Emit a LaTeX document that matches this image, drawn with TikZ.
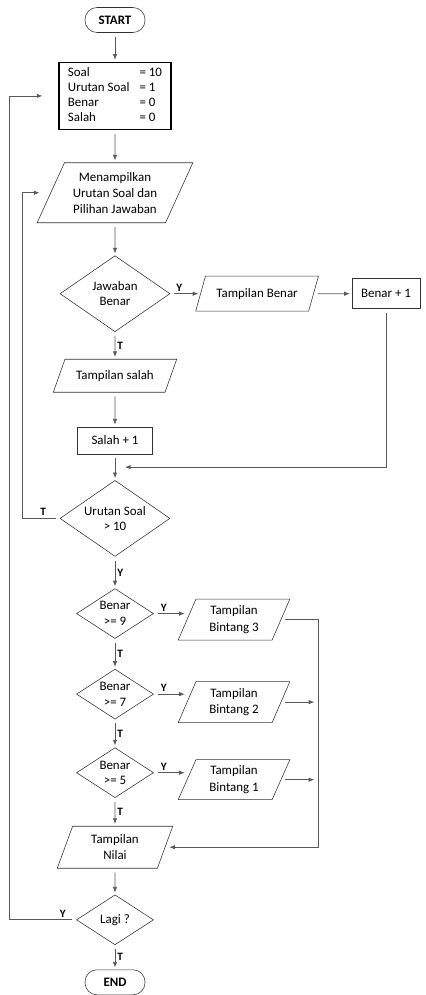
\documentclass[tikz,border=0pt]{standalone}
\usepackage{fontspec}
\setmainfont{Carlito}
\usepackage{tikz}
\usetikzlibrary{arrows.meta,positioning,calc,shapes.geometric}
\tikzset{
  term/.style={rectangle, draw=black!80, rounded corners=3mm, font=\fontsize{9.2}{11}\selectfont\bfseries,
               minimum width=15mm, minimum height=6.25mm, inner sep=1pt},
  initbox/.style={rectangle, draw=black, line width=0.9pt, align=left, font=\fontsize{9.2}{10.8}\selectfont,
                  minimum width=28mm, minimum height=16.75mm, inner sep=1.5pt},
  proc/.style={rectangle, draw=black!80, align=center, font=\fontsize{9.2}{11}\selectfont, inner sep=1pt},
  par/.style={trapezium, trapezium stretches=true, draw=black!80, align=center,
              font=\fontsize{9.2}{11.5}\selectfont, inner sep=1pt,
              trapezium left angle=#1, trapezium right angle={180-#1}},
  dbig/.style={diamond, draw=black!80, align=center, font=\fontsize{9.2}{11}\selectfont, aspect=1.45,
               inner sep=0pt, minimum width=27.5mm, minimum height=19mm},
  dsmall/.style={diamond, draw=black!80, align=center, font=\fontsize{9.2}{11}\selectfont, aspect=1.5,
                 inner sep=0pt, minimum width=19.25mm, minimum height=12.5mm},
  fl/.style={-{Latex[length=1.4mm,width=1.1mm]}, black!65, line width=0.5pt, shorten <=1mm, shorten >=0.5mm},
  lbl/.style={font=\fontsize{8}{9}\selectfont\bfseries, text=black, inner sep=1.5pt},
}
\begin{document}
\begin{tikzpicture}
\useasboundingbox (-28.75mm,5mm) rectangle (77.75mm,-243.75mm);
\node[term] (start) {START};
\node[initbox, below=7.25mm of start] (init)
  {\begin{tabular}{@{}l@{\hspace{2.5mm}}l@{}}Soal & = 10\\ Urutan Soal & = 1\\ Benar & = 0\\ Salah & = 0\end{tabular}};
\node[par=62, minimum width=39.25mm, minimum height=15mm, below=8.1mm of init] (tampil)
  {Menampilkan\\Urutan Soal dan\\Pilihan Jawaban};
\node[dbig, below=8.1mm of tampil] (jawab) {Jawaban\\Benar};
\node[par=60, minimum width=30.75mm, minimum height=8.75mm, right=7.5mm of jawab] (tbenar) {Tampilan Benar};
\node[proc, minimum width=17mm, minimum height=7.5mm, right=9.5mm of tbenar] (bplus) {Benar + 1};
\node[par=56, minimum width=31mm, minimum height=8.25mm, below=6.75mm of jawab] (tsalah) {Tampilan salah};
\node[proc, minimum width=18.75mm, minimum height=6.75mm, below=8.5mm of tsalah] (splus) {Salah + 1};
\node[dbig, below=6.5mm of splus] (urut) {Urutan Soal\\> 10};
\node[dsmall, below=7.9mm of urut] (b9) {Benar\\>= 9};
\node[par=68, minimum width=28mm, minimum height=10.25mm, right=8.25mm of b9, yshift=-1.5mm] (bin3) {Tampilan\\Bintang 3};
\node[dsmall, below=7.5mm of b9] (b7) {Benar\\>= 7};
\node[par=68, minimum width=28mm, minimum height=10.25mm, right=8.25mm of b7, yshift=-2mm] (bin2) {Tampilan\\Bintang 2};
\node[dsmall, below=7mm of b7] (b5) {Benar\\>= 5};
\node[par=68, minimum width=28mm, minimum height=10mm, right=8.25mm of b5, yshift=-1.75mm] (bin1) {Tampilan\\Bintang 1};
\node[par=72, minimum width=29mm, minimum height=10.5mm, below=7mm of b5] (nilai) {Tampilan\\Nilai};
\node[dsmall, below=6.5mm of nilai] (lagi) {Lagi ?};
\node[term, below=6.1mm of lagi] (finish) {END};
% helper points
\coordinate[left=9.25mm of urut.west] (ip);
\coordinate[left=16.75mm of lagi.west] (op);
\coordinate[right=9.25mm of bin3.east] (bus);
\coordinate (join) at ($(splus.south)!0.5!(urut.north)$);
% main flow
\draw[fl] (start) -- (init);
\draw[fl] (init) -- (tampil);
\draw[fl] (tampil) -- (jawab);
\draw[fl] (jawab) -- node[lbl, above, pos=0.3]{Y} (tbenar);
\draw[fl] (tbenar) -- (tbenar -| bplus.west);
\draw[fl] (jawab) -- node[lbl, right]{T} (tsalah);
\draw[fl] (tsalah) -- (splus);
\draw[fl] (splus) -- (urut);
\draw[fl, shorten >=2.5mm] (bplus.south) |- (join);
\draw[fl, shorten >=2.75mm] (urut.west) -- node[lbl, above, pos=0.45]{T} (ip) |- (tampil.west);
\draw[fl] (urut) -- node[lbl, right]{Y} (b9);
\draw[fl] (b9.east) -- node[lbl, above, pos=0.3]{Y} (b9.east -| bin3.west);
\draw[fl] (b9) -- node[lbl, right]{T} (b7);
\draw[fl] (b7.east) -- node[lbl, above, pos=0.3]{Y} (b7.east -| bin2.west);
\draw[fl] (b7) -- node[lbl, right]{T} (b5);
\draw[fl] (b5.east) -- node[lbl, above, pos=0.3]{Y} (b5.east -| bin1.west);
\draw[fl] (b5) -- node[lbl, right]{T} (nilai);
\draw[fl, shorten >=1mm] (bin3.east) -- (bus) |- (nilai.east);
\draw[fl, shorten >=1mm] (bin2.east) -- (bin2.east -| bus);
\draw[fl, shorten >=1mm] (bin1.east) -- (bin1.east -| bus);
\draw[fl] (nilai) -- (lagi);
\draw[fl, shorten >=4mm] (lagi.west) -- node[lbl, above, pos=0.2]{Y} (op) |- (init.west);
\draw[fl] (lagi) -- node[lbl, right]{T} (finish);
\end{tikzpicture}
\end{document}
